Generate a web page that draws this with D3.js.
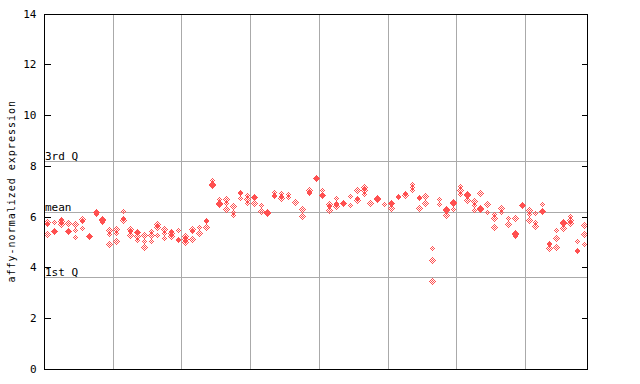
<!DOCTYPE html>
<html><head><meta charset="utf-8">
<script src="https://cdn.jsdelivr.net/npm/d3@7"></script>
<style>
html,body{margin:0;padding:0;background:#fff;}
svg{display:block;}
text{font-family:"DejaVu Sans Mono",monospace;fill:#000;}
</style></head>
<body>
<svg id="chart" width="640" height="384"></svg>
<script>
// ---- data ----
const yTicks = [0, 2, 4, 6, 8, 10, 12, 14];
const refLines = [
  {label: "3rd Q", value: 8.21},
  {label: "mean", value: 6.19},
  {label: "1st Q", value: 3.61}
];
const yLabel = "affy-normalized expression";
const sampleCount = 79;
const groupEvery = 10;
const sampleValues = [
  [5.80, 5.72, 5.30], [5.78, 5.45, 5.43], [5.92, 5.82, 5.72], [5.74, 5.45, 5.43],
  [5.71, 5.49, 5.18], [5.92, 5.83, 5.54], [5.25, 5.23], [6.20, 6.17, 6.10],
  [5.90, 5.85, 5.80], [5.47, 5.31, 4.94], [5.50, 5.36, 5.03], [6.21, 5.95, 5.88],
  [5.53, 5.44, 5.28], [5.41, 5.38, 5.24, 5.07], [5.27, 5.03, 4.81], [5.43, 5.27, 5.03],
  [5.72, 5.61, 5.29], [5.53, 5.34, 5.14], [5.42, 5.35, 5.22], [5.49, 5.13, 5.07],
  [5.23, 5.13, 5.01], [5.53, 5.43, 5.12], [5.60, 5.36], [5.85, 5.83, 5.60],
  [7.43, 7.27, 7.25], [6.71, 6.52, 6.50], [6.70, 6.54, 6.32], [6.41, 6.19, 6.08],
  [6.96, 6.94, 6.75], [6.84, 6.71, 6.55], [6.79, 6.77, 6.55], [6.45, 6.21],
  [6.17, 6.15], [6.96, 6.85, 6.83], [6.95, 6.81, 6.75], [6.90, 6.78],
  [6.58], [6.32, 6.03], [7.04, 6.96, 6.94], [7.53, 7.51],
  [7.04, 6.87, 6.85], [6.51, 6.42, 6.28], [6.75, 6.52, 6.50, 6.42], [6.55, 6.53],
  [6.81, 6.47], [7.06, 6.75, 6.67], [7.17, 7.06, 6.90], [6.54],
  [6.72, 6.70], [6.51], [6.55, 6.53, 6.36], [6.81, 6.79],
  [6.95, 6.86], [7.27, 7.17, 7.06], [6.76, 6.74, 6.36], [6.80, 6.55],
  [4.75, 4.31, 3.45], [6.71, 6.51], [6.30, 6.28, 6.08], [6.56, 6.54, 6.32],
  [7.19, 7.06, 6.90], [6.88, 6.86, 6.65], [6.61, 6.45, 6.28], [6.95, 6.33, 6.31],
  [6.51, 6.19], [6.12, 5.93, 5.60], [6.35, 6.19], [5.93, 5.71],
  [5.93, 5.35, 5.33, 5.23], [6.46, 6.44], [6.28, 6.12, 5.88], [6.14, 5.79, 5.63],
  [6.51, 6.23, 6.21], [4.95, 4.93, 4.77], [5.46, 5.17, 4.81], [5.77, 5.75, 5.57],
  [6.01, 5.88, 5.76], [5.03, 4.70, 4.65], [5.66, 5.30, 4.92]
];

// ---- layout ----
const L = 44, R = 587, T = 13.5, B = 369;
const svg = d3.select("#chart");
const x = d3.scaleLinear().domain([0, sampleCount]).range([L, R]);
const y = d3.scaleLinear().domain([0, 14]).range([B, T]);
const pointColor = "#ff5050";
const gridColor = "#aaaaaa";

// checker patterns for the dotted diamonds
const defs = svg.append("defs");
[["pa", [[0,0],[1,1]]], ["pb", [[1,0],[0,1]]]].forEach(([id, cells]) => {
  const p = defs.append("pattern").attr("id", id)
    .attr("patternUnits", "userSpaceOnUse").attr("width", 2).attr("height", 2);
  cells.forEach(c => p.append("rect").attr("x", c[0]).attr("y", c[1])
    .attr("width", 1).attr("height", 1).attr("fill", pointColor));
});

// vertical grid lines
const vg = d3.range(groupEvery, sampleCount, groupEvery);
svg.append("g").selectAll("line").data(vg).join("line")
  .attr("x1", d => Math.round(x(d)) + 0.5).attr("x2", d => Math.round(x(d)) + 0.5)
  .attr("y1", T).attr("y2", B)
  .attr("stroke", gridColor).attr("stroke-width", 1).attr("shape-rendering", "crispEdges");

// reference lines
const rl = svg.append("g");
rl.selectAll("line").data(refLines).join("line")
  .attr("x1", L).attr("x2", R)
  .attr("y1", d => Math.round(y(d.value)) + 0.5).attr("y2", d => Math.round(y(d.value)) + 0.5)
  .attr("stroke", gridColor).attr("stroke-width", 1).attr("shape-rendering", "crispEdges");
rl.selectAll("text").data(refLines).join("text")
  .attr("x", L + 1).attr("y", d => Math.round(y(d.value)) - 1)
  .attr("font-size", 11).text(d => d.label);

// points
const pts = [];
sampleValues.forEach((vals, i) => vals.forEach((v, j) => pts.push({i, j, v})));
svg.append("g").selectAll("path").data(pts).join("path")
  .attr("d", d => {
    const cx = Math.round(x(d.i + 0.5)) + 0.5, cy = Math.round(y(d.v)) + 0.5, r = 3.6;
    return `M${cx},${cy - r}L${cx + r},${cy}L${cx},${cy + r}L${cx - r},${cy}Z`;
  })
  .attr("fill", d => d.j % 2 === 0 ? "url(#pa)" : "url(#pb)")
  .attr("shape-rendering", "crispEdges");

// frame
svg.append("rect").attr("x", L + 0.5).attr("y", Math.round(T) + 0.5)
  .attr("width", R - L).attr("height", B - Math.round(T))
  .attr("fill", "none").attr("stroke", "#000").attr("stroke-width", 1)
  .attr("shape-rendering", "crispEdges");

// left axis (ticks inward) and right ticks
const leftAxis = d3.axisLeft(y).tickValues(yTicks).tickSize(-6).tickPadding(8).tickFormat(d3.format("d"));
const gl = svg.append("g").attr("transform", `translate(${L + 0.5},0)`).call(leftAxis);
gl.select(".domain").remove();
gl.selectAll("text").attr("font-size", 11).attr("font-family", "DejaVu Sans Mono");
gl.selectAll("line").attr("stroke", "#000").attr("shape-rendering", "crispEdges");
gl.selectAll(".tick").attr("transform", d => `translate(0,${Math.round(y(d)) + 0.5})`);

const rightAxis = d3.axisRight(y).tickValues(yTicks).tickSize(-6).tickFormat("");
const gr = svg.append("g").attr("transform", `translate(${R + 0.5},0)`).call(rightAxis);
gr.select(".domain").remove();
gr.selectAll("line").attr("stroke", "#000").attr("shape-rendering", "crispEdges");
gr.selectAll(".tick").attr("transform", d => `translate(0,${Math.round(y(d)) + 0.5})`);

// y label
svg.append("text")
  .attr("transform", `translate(15,${(T + B) / 2}) rotate(-90)`)
  .attr("text-anchor", "middle").attr("font-size", 10)
  .attr("letter-spacing", 1.0)
  .text(yLabel);
</script>
</body></html>
